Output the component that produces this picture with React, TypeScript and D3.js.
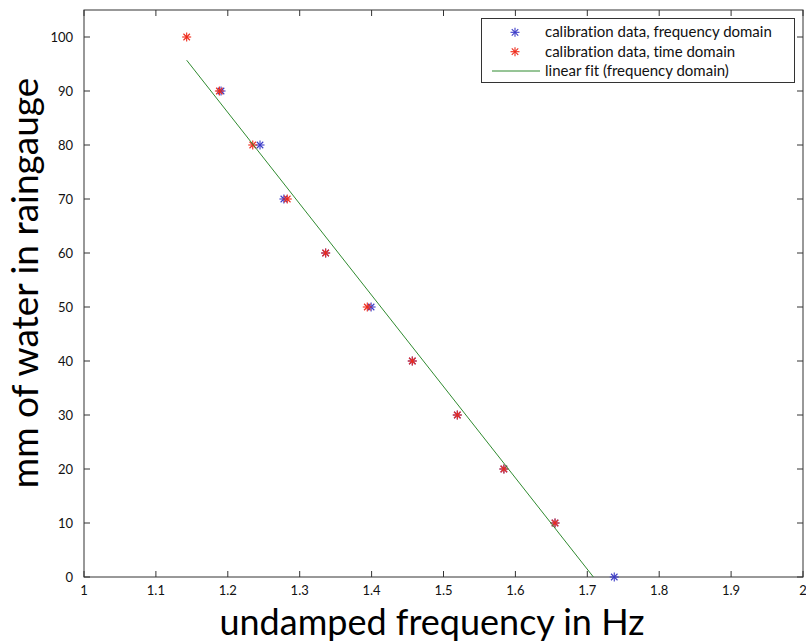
import React from "react";
import * as d3 from "d3";

const freqDomainLevels = [90, 80, 70, 60, 50, 40, 30, 20, 10, 0];
const freqDomainHz = [1.1906, 1.2448, 1.278, 1.3361, 1.3993, 1.4566, 1.5192, 1.584, 1.6551, 1.7375];
const timeDomainLevels = [100, 90, 80, 70, 60, 50, 40, 30, 20, 10];
const timeDomainHz = [1.1428, 1.1883, 1.2347, 1.2827, 1.3361, 1.394, 1.4566, 1.5192, 1.584, 1.6551];
const fitHz = [1.1428, 1.7085];
const fitLevel = [95.7, 0];
const xTicks = [1, 1.1, 1.2, 1.3, 1.4, 1.5, 1.6, 1.7, 1.8, 1.9, 2];
const yTicks = [0, 10, 20, 30, 40, 50, 60, 70, 80, 90, 100];
const legendLabels = [
  "calibration data, frequency domain",
  "calibration data, time domain",
  "linear fit (frequency domain)",
];

const W = 806;
const H = 644;
const L = 84, R = 803, T = 10, B = 577;
const BLUE = "#3c3cc8";
const RED = "#ee2b1b";
const GREEN = "#2f8a2f";
const AXIS = "#333";
const FONT = "Lato, 'Open Sans', sans-serif";

function Star({ x, y, color }: { x: number; y: number; color: string }) {
  const s = 4.5;
  const d = s * 0.72;
  return (
    <g stroke={color} strokeWidth={1.1}>
      <line x1={x - s} y1={y} x2={x + s} y2={y} />
      <line x1={x} y1={y - s} x2={x} y2={y + s} />
      <line x1={x - d} y1={y - d} x2={x + d} y2={y + d} />
      <line x1={x - d} y1={y + d} x2={x + d} y2={y - d} />
    </g>
  );
}

export default function App() {
  const x = d3.scaleLinear().domain([1, 2]).range([L, R]);
  const y = d3.scaleLinear().domain([0, 105]).range([B, T]);
  const line = d3
    .line<number>()
    .x((_, i) => x(fitHz[i]))
    .y((d) => y(d));
  const tick = 6;
  return (
    <svg
      width={W}
      height={H}
      style={{ position: "absolute", left: 0, top: 0, background: "#fff", fontVariantLigatures: "none" }}
      fontFamily={FONT}
    >
      <rect x={0} y={0} width={W} height={H} fill="#fff" />
      {xTicks.map((t) => (
        <g key={"x" + t} stroke={AXIS} strokeWidth={1}>
          <line x1={x(t)} x2={x(t)} y1={B} y2={B - tick} />
          <line x1={x(t)} x2={x(t)} y1={T} y2={T + tick} />
        </g>
      ))}
      {yTicks.map((t) => (
        <g key={"y" + t} stroke={AXIS} strokeWidth={1}>
          <line x1={L} x2={L + tick} y1={y(t)} y2={y(t)} />
          <line x1={R} x2={R - tick} y1={y(t)} y2={y(t)} />
        </g>
      ))}
      <rect x={L} y={T} width={R - L} height={B - T} fill="none" stroke={AXIS} strokeWidth={1} />
      {xTicks.map((t) => (
        <text key={"xl" + t} x={x(t)} y={B + 18} textAnchor="middle" fontSize={13} fill="#111">
          {d3.format("~g")(t)}
        </text>
      ))}
      {yTicks.map((t) => (
        <text key={"yl" + t} x={L - 11} y={y(t) + 4.5} textAnchor="end" fontSize={13} fill="#111">
          {t}
        </text>
      ))}
      {freqDomainHz.map((f, i) => (
        <Star key={"b" + i} x={x(f)} y={y(freqDomainLevels[i])} color={BLUE} />
      ))}
      {timeDomainHz.map((f, i) => (
        <Star key={"r" + i} x={x(f)} y={y(timeDomainLevels[i])} color={RED} />
      ))}
      <path d={line(fitLevel) || ""} fill="none" stroke={GREEN} strokeWidth={1} />
      <text x={432} y={634.5} textAnchor="middle" fontSize={36} fill="#000">
        undamped frequency in Hz
      </text>
      <text
        transform={`translate(38, 283) rotate(-90)`}
        textAnchor="middle"
        fontSize={37}
        fill="#000"
      >
        mm of water in raingauge
      </text>
      <g>
        <rect x={481.5} y={18.5} width={313} height={64} fill="#fff" stroke={AXIS} strokeWidth={1} />
        <Star x={515} y={32.3} color={BLUE} />
        <Star x={515} y={51.7} color={RED} />
        <line x1={492} x2={540} y1={71} y2={71} stroke={GREEN} strokeWidth={1} />
        {legendLabels.map((lab, i) => (
          <text key={lab} x={545} y={37.3 + i * 19.4} fontSize={15} fill="#111">
            {lab}
          </text>
        ))}
      </g>
    </svg>
  );
}
